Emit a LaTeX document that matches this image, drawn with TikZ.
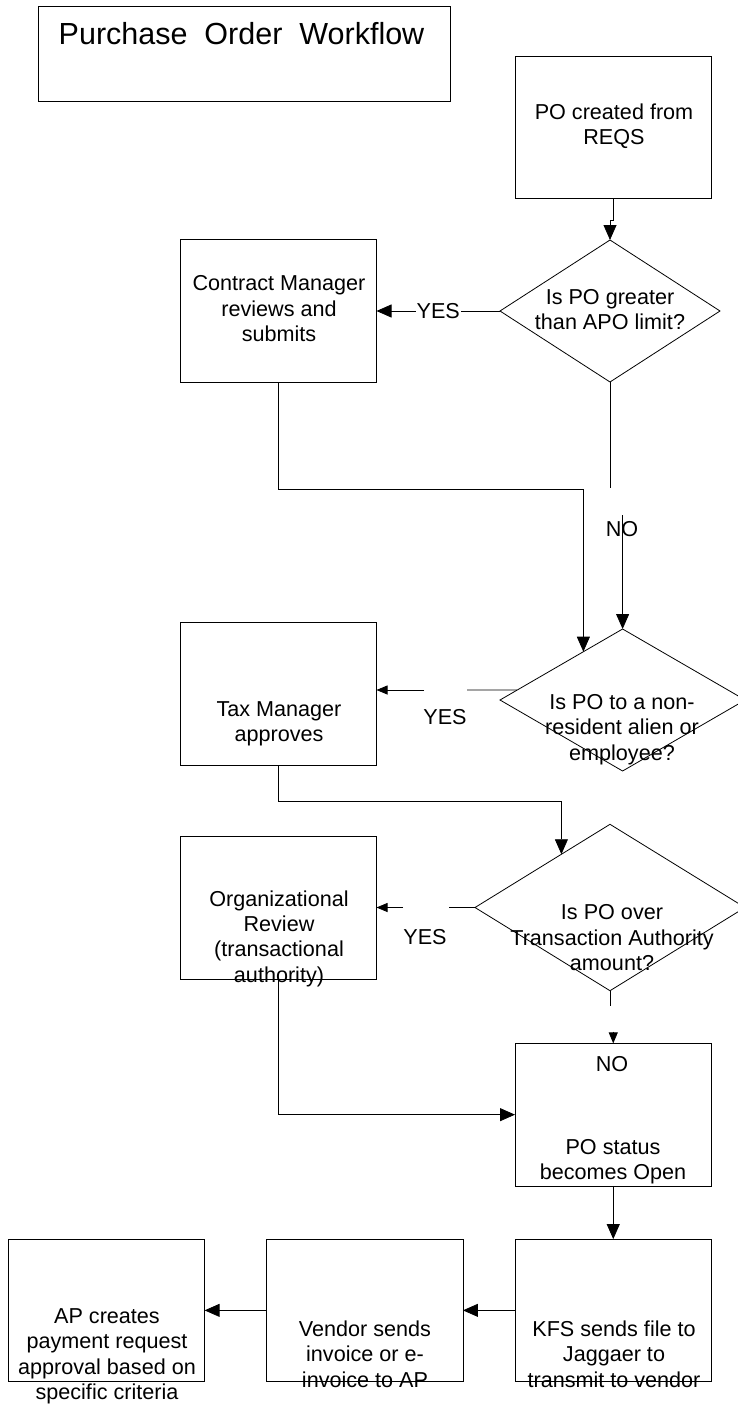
\documentclass[tikz,border=0pt]{standalone}
\usepackage{fontspec}
\setmainfont{Liberation Sans}
\usetikzlibrary{arrows.meta,calc,shapes.geometric}

\begin{document}
\begin{tikzpicture}[x=1pt,y=-1pt,line width=0.8pt,
  >={Triangle[length=15pt,width=13pt]},
  small/.style={>={Triangle[length=11pt,width=9pt]}},
  box/.style={draw,rectangle,minimum width=196.5pt,minimum height=142.5pt,inner sep=0pt,outer sep=0pt},
  dec/.style={draw,diamond,inner sep=0pt,outer sep=0pt},
  txt/.style={align=center,inner sep=0pt,font=\fontsize{21.6}{25.3}\selectfont}]
\useasboundingbox (0,0) rectangle (738,1407);
% title
\node[draw,minimum width=411.4pt,minimum height=95pt,inner sep=0pt] (T) at (244.3,53.5) {};
\node[txt,font=\fontsize{30.5}{36}\selectfont] (t) at (241.5,34) {Purchase\ \ Order\ \ Workflow};
% boxes and decisions
\node[box] (A) at (613.25,127.25) {};
\node[txt] (a) at (614,126.5) {PO created from\\REQS};
\node[dec,minimum width=220pt,minimum height=142pt] (B) at (610,311) {};
\node[txt] (b) at (610,309.6) {Is PO greater\\than APO limit?};
\node[box] (C) at (278.25,311) {};
\node[txt] (c) at (279,308.6) {Contract Manager\\reviews and\\submits};
\node[dec,minimum width=245.2pt,minimum height=142pt] (D) at (622.6,700) {};
\node[txt] (d) at (622,729.4) {Is PO to a non-\\resident alien or\\employee?};
\node[box] (E) at (278.25,694) {};
\node[txt] (e) at (279,723.6) {Tax Manager\\approves};
\node[dec,minimum width=270pt,minimum height=166.4pt] (F) at (610,907.5) {};
\node[txt] (f) at (612,937.6) {Is PO over\\Transaction Authority\\amount?};
\node[box] (G) at (278.25,908) {};
\node[txt] (g) at (279,938.6) {Organizational\\Review\\(transactional\\authority)};
\node[box] (H) at (613.25,1114.65) {};
\node[txt] (h) at (613,1161.5) {PO status\\becomes Open};
\node[box] (I) at (613.25,1310.35) {};
\node[txt] (i) at (614,1354.2) {KFS sends file to\\Jaggaer to\\transmit to vendor};
\node[box] (J) at (364.7,1310.35) {};
\node[txt] (j) at (365,1354.2) {Vendor sends\\invoice or e-\\invoice to AP};
\node[box] (K) at (106.35,1310.35) {};
\node[txt] (k) at (107,1356.4) {AP creates\\payment request\\approval based on\\specific criteria};
% loose labels
\node[txt] (y2) at (445,717) {YES};
\node[txt] (y3) at (425,937) {YES};
\node[txt] (n1) at (622,529) {NO};
\node[txt] (n2) at (612,1064) {NO};
% end points
\coordinate (p1) at ($(D.north)!.32!(D.west)$);
\coordinate (p2) at ($(D.west)!.14!(D.north)$);
\coordinate (p3) at ($(F.north)!.36!(F.west)$);
\coordinate (q1) at (622.6,515);
\coordinate (q2) at (613.25,1031.7);
\coordinate (r1) at (467,690);
\coordinate (r2) at (424,690);
\coordinate (r3) at (448.5,907.5);
\coordinate (r4) at (403,907.5);
% connectors
\draw[->] (A.south) -- ++(0,22) -| (B.north);
\draw[->] (C.south) -- ++(0,107) -| (p1);
\draw (B.south) -- ++(0,106);
\draw (p2) -- (r1);
\draw[->] (E.south) -- ++(0,36) -| (p3);
\draw (F.west) -- (r3);
\draw (F.south) -- ++(0,15);
\draw[->] (G.south) |- (H.west);
\path[->]
(B.west) edge node[txt,fill=white,inner sep=1pt] (y1) {YES} (C.east)
(q1) edge (D.north)
(r2) edge[small] (r2 -| E.east)
(r4) edge[small] (r4 -| G.east)
(q2) edge[small] (H.north)
(H.south) edge (I.north)
(I.west) edge (J.east)
(J.west) edge (K.east);
\end{tikzpicture}
\end{document}
